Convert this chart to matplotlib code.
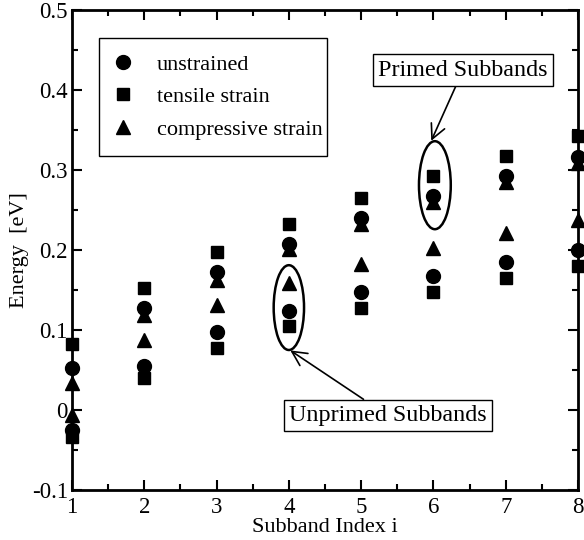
import matplotlib
matplotlib.use("Agg")
import matplotlib.pyplot as plt
from matplotlib.patches import Ellipse, Rectangle
from matplotlib.ticker import MultipleLocator

plt.rcParams['font.family'] = ['Liberation Serif', 'DejaVu Serif']
plt.rcParams['mathtext.fontset'] = 'stix'

subband = [1, 2, 3, 4, 5, 6, 7, 8]
unstrained_unprimed = [-0.025, 0.055, 0.097, 0.124, 0.148, 0.167, 0.185, 0.200]
unstrained_primed = [0.053, 0.127, 0.172, 0.208, 0.240, 0.268, 0.293, 0.316]
tensile_unprimed = [-0.034, 0.040, 0.077, 0.105, 0.127, 0.147, 0.165, 0.180]
tensile_primed = [0.083, 0.153, 0.197, 0.233, 0.265, 0.292, 0.318, 0.342]
compressive_unprimed = [-0.006, 0.087, 0.131, 0.159, 0.183, 0.203, 0.221, 0.238]
compressive_primed = [0.034, 0.119, 0.163, 0.201, 0.233, 0.260, 0.285, 0.309]

legend_labels = ["unstrained", "tensile strain", "compressive strain"]

fig = plt.figure(figsize=(5.84, 5.40), dpi=100)
ax = fig.add_axes([72/584, 50/540, 506/584, 480/540])

ms_c, ms_s, ms_t = 10, 8.5, 10.5
kw = dict(linestyle='none', color='black', clip_on=False, zorder=5)
ax.plot(subband, unstrained_unprimed, marker='o', ms=ms_c, **kw)
ax.plot(subband, unstrained_primed, marker='o', ms=ms_c, label=legend_labels[0], **kw)
ax.plot(subband, tensile_unprimed, marker='s', ms=ms_s, **kw)
ax.plot(subband, tensile_primed, marker='s', ms=ms_s, label=legend_labels[1], **kw)
ax.plot(subband, compressive_unprimed, marker='^', ms=ms_t, **kw)
ax.plot(subband, compressive_primed, marker='^', ms=ms_t, label=legend_labels[2], **kw)

ax.set_xlim(1, 8)
ax.set_ylim(-0.1, 0.5)
ax.xaxis.set_major_locator(MultipleLocator(1))
ax.xaxis.set_minor_locator(MultipleLocator(0.5))
ax.yaxis.set_major_locator(MultipleLocator(0.1))
ax.yaxis.set_minor_locator(MultipleLocator(0.05))
ax.set_yticks([-0.1, 0, 0.1, 0.2, 0.3, 0.4, 0.5])
ax.set_yticklabels(['-0.1', '0', '0.1', '0.2', '0.3', '0.4', '0.5'])
ax.tick_params(which='both', direction='in', top=True, right=True, width=1.5, labelsize=16.5, pad=3)
ax.tick_params(axis='x', which='major', pad=5)
ax.tick_params(which='major', length=7)
ax.tick_params(which='minor', length=4)
for s in ax.spines.values():
    s.set_linewidth(2)

ax.set_xlabel('Subband Index i', fontsize=16, labelpad=0)
ax.set_ylabel('Energy  [eV]', fontsize=16, labelpad=2)

leg = ax.legend(loc='upper left', bbox_to_anchor=(0.053, 0.936), fontsize=16,
                frameon=False, handlelength=1.0, handletextpad=1.0, borderpad=0.6,
                labelspacing=0.54, borderaxespad=0)
ax.add_patch(Rectangle((27/506, (490-156)/480), 228/506, 118/480, transform=ax.transAxes,
                       fill=True, fc='white', ec='black', lw=1.0, zorder=3))
leg.set_zorder(4)

# ellipses
ax.add_patch(Ellipse((4.0, 0.128), 0.42, 0.106, fill=False, lw=1.8, ec='black', zorder=6))
ax.add_patch(Ellipse((6.02, 0.281), 0.44, 0.11, fill=False, lw=1.8, ec='black', zorder=6))

box = dict(boxstyle='square,pad=0.22', fc='white', ec='black', lw=1.0)
ax.annotate('Primed Subbands', xy=(5.97, 0.3365), xytext=(6.41, 0.425),
            ha='center', va='center', fontsize=17.4, bbox=box,
            arrowprops=dict(arrowstyle='->,head_length=0.6,head_width=0.3', lw=1.2, color='black',
                            shrinkA=0, shrinkB=0))
ax.annotate('Unprimed Subbands', xy=(4.02, 0.0745), xytext=(5.37, -0.007),
            ha='center', va='center', fontsize=17.4, bbox=box,
            arrowprops=dict(arrowstyle='->,head_length=0.6,head_width=0.3', lw=1.2, color='black',
                            shrinkA=0, shrinkB=0))

fig.savefig('out.png', dpi=100)
